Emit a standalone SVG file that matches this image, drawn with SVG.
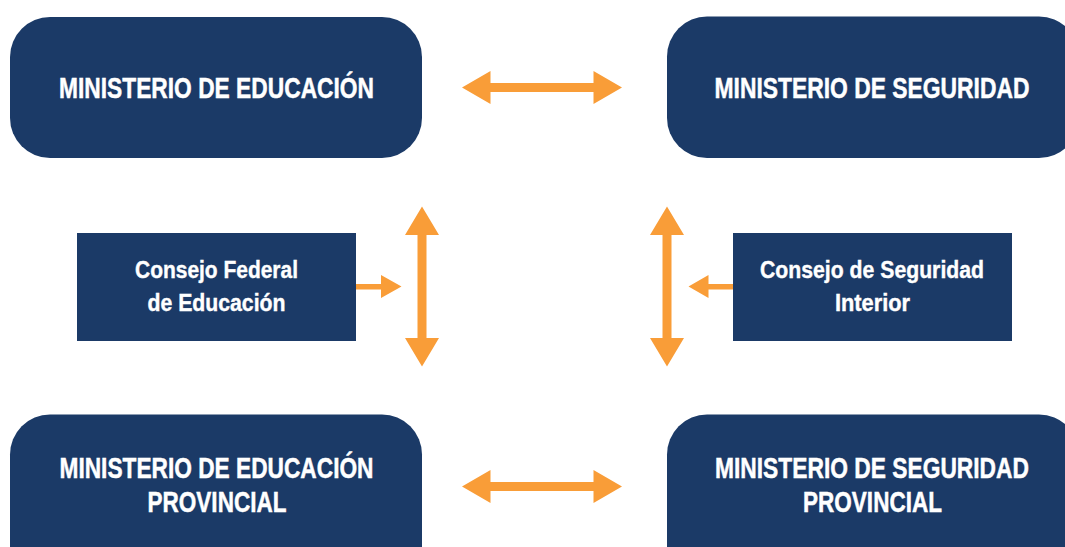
<svg xmlns="http://www.w3.org/2000/svg" width="1065" height="547" viewBox="0 0 1065 547">
  <style>
    .box { fill: #1b3a67; }
    .big { font-family: "Liberation Sans", Arial, sans-serif; font-weight: bold; font-size: 29.5px; fill: #ffffff; stroke: #ffffff; stroke-width: 0.5px; text-anchor: middle; }
    .small { font-family: "Liberation Sans", Arial, sans-serif; font-weight: bold; font-size: 24px; fill: #ffffff; stroke: #ffffff; stroke-width: 0.4px; text-anchor: middle; }
    .arrow { fill: #f99d38; }
  </style>
  <rect width="1065" height="547" fill="#ffffff"/>

  <g id="ministerio-educacion">
    <rect class="box" x="10" y="17" width="412" height="141" rx="40" ry="40"/>
    <text class="big" x="216.5" y="98" textLength="315" lengthAdjust="spacingAndGlyphs">MINISTERIO DE EDUCACIÓN</text>
  </g>

  <g id="ministerio-seguridad">
    <rect class="box" x="667" y="16.5" width="412" height="141.5" rx="40" ry="40"/>
    <text class="big" x="872" y="98" textLength="315" lengthAdjust="spacingAndGlyphs">MINISTERIO DE SEGURIDAD</text>
  </g>

  <g id="consejo-federal">
    <rect class="box" x="77" y="233" width="279" height="108"/>
    <text class="small" x="216.5" y="278" textLength="163" lengthAdjust="spacingAndGlyphs">Consejo Federal</text>
    <text class="small" x="216.5" y="311" textLength="138" lengthAdjust="spacingAndGlyphs">de Educación</text>
  </g>

  <g id="consejo-seguridad">
    <rect class="box" x="733" y="233" width="279" height="108"/>
    <text class="small" x="872" y="278" textLength="224" lengthAdjust="spacingAndGlyphs">Consejo de Seguridad</text>
    <text class="small" x="872.5" y="311" textLength="75" lengthAdjust="spacingAndGlyphs">Interior</text>
  </g>

  <g id="ministerio-educacion-provincial">
    <rect class="box" x="10" y="414.5" width="412" height="200" rx="40" ry="40"/>
    <text class="big" x="216.5" y="478" textLength="314" lengthAdjust="spacingAndGlyphs">MINISTERIO DE EDUCACIÓN</text>
    <text class="big" x="217" y="512" textLength="139" lengthAdjust="spacingAndGlyphs">PROVINCIAL</text>
  </g>

  <g id="ministerio-seguridad-provincial">
    <rect class="box" x="667" y="414.5" width="412" height="200" rx="40" ry="40"/>
    <text class="big" x="872" y="478" textLength="314" lengthAdjust="spacingAndGlyphs">MINISTERIO DE SEGURIDAD</text>
    <text class="big" x="872.5" y="512" textLength="139" lengthAdjust="spacingAndGlyphs">PROVINCIAL</text>
  </g>

  <g id="connectors">
    <polygon class="arrow" points="462,87.5 490.5,71 490.5,83 593.5,83 593.5,71 622,87.5 593.5,104 593.5,92 490.5,92 490.5,104"/>
    <polygon class="arrow" points="462,486.5 490.5,470 490.5,482 593.5,482 593.5,470 622,486.5 593.5,503 593.5,491 490.5,491 490.5,503"/>
    <polygon class="arrow" points="422,206.5 439,235 426.5,235 426.5,338 439,338 422,366.5 405,338 417.5,338 417.5,235 405,235"/>
    <polygon class="arrow" points="667,206.5 684,235 671.5,235 671.5,338 684,338 667,366.5 650,338 662.5,338 662.5,235 650,235"/>
    <polygon class="arrow" points="356,284 381,284 381,275 401.5,286.5 381,298 381,289.5 356,289.5"/>
    <polygon class="arrow" points="733,284 708.5,284 708.5,275 688.5,286.5 708.5,298 708.5,289.5 733,289.5"/>
  </g>
</svg>
